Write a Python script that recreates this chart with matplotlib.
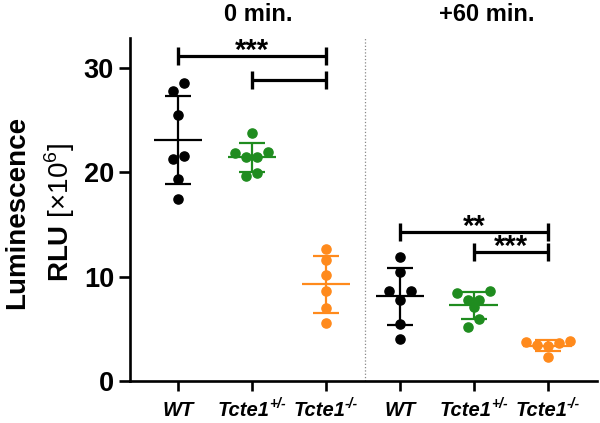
import numpy as np
import matplotlib
matplotlib.use("Agg")
from matplotlib import pyplot as plt
from matplotlib.transforms import IdentityTransform

plt.rcParams['font.family'] = ['Liberation Sans', 'DejaVu Sans']
plt.rcParams['mathtext.fontset'] = 'custom'
plt.rcParams['mathtext.rm'] = 'Liberation Sans'
plt.rcParams['mathtext.bf'] = 'Liberation Sans:bold'

# values (RLU x 10^6)
wt_0 = [28.6, 27.8, 25.5, 21.6, 21.3, 19.4, 17.5]
het_0 = [23.8, 22.0, 21.9, 21.5, 21.5, 19.9, 19.7]
ko_0 = [12.7, 11.6, 10.2, 8.6, 7.0, 5.6]
wt_60 = [11.9, 10.5, 8.6, 8.6, 7.8, 5.5, 4.0]
het_60 = [8.6, 8.4, 7.8, 7.8, 7.1, 5.9, 5.2]
ko_60 = [3.8, 3.7, 3.6, 3.5, 3.4, 2.3]

groups = [wt_0, het_0, ko_0, wt_60, het_60, ko_60]
genotypes = ['WT', 'Tcte1', 'Tcte1']
superscripts = ['', '+/-', '-/-']
timepoints = ['0 min.', '+60 min.']

# significance brackets: (from group, to group, height, label)
brackets = [(0, 2, 31.2, '***'), (1, 2, 28.9, ''),
            (3, 5, 14.3, '**'), (4, 5, 12.4, '***')]

colors = ['black', '#1f8c1f', '#ff8a1c'] * 2

fig = plt.figure(figsize=(6.0, 4.23), dpi=100)
ax = fig.add_axes([0.2167, 0.0993, 0.778, 0.811])
ax.set_xlim(-0.649, 5.662)
ax.set_ylim(0, 32.9)

# px per data unit, used to lay out the scatter rows
xpx = 74.0
ypx = 343.0 / 32.9
row_gap = 9.0 / ypx
step = 11.0 / xpx


def swarm_offsets(vals):
    order = np.argsort(vals)[::-1]
    offs = np.zeros(len(vals))
    rows = []
    for i in order:
        if rows and vals[rows[-1][0]] - vals[i] < row_gap:
            rows[-1].append(i)
        else:
            rows.append([i])
    for row in rows:
        n = len(row)
        slots = [(k - (n - 1) / 2.0) for k in range(n)]
        slots.sort(key=lambda s: (abs(s), s))
        row_sorted = sorted(row, key=lambda j: vals[j])
        for j, s in zip(row_sorted, slots):
            offs[j] = s * step
    return offs


for gi, vals in enumerate(groups):
    vals = np.array(vals)
    c = colors[gi]
    xs = gi + swarm_offsets(vals)
    ax.plot(xs, vals, 'o', color=c, ms=6.6, mec=c, zorder=2, clip_on=False)
    m = vals.mean()
    sd = vals.std(ddof=1)
    ax.plot([gi - 0.33, gi + 0.33], [m, m], color=c, lw=1.6, zorder=3,
            solid_capstyle='butt')
    ax.errorbar([gi], [m], yerr=[sd], fmt='none', ecolor=c, elinewidth=1.6,
                capsize=9.5, capthick=1.6, zorder=3)

for g1, g2, h, lab in brackets:
    ax.plot([g1, g2], [h, h], color='black', lw=2.3, marker='|', ms=12.5,
            mew=2.4, solid_capstyle='butt', clip_on=False)
    if lab:
        ax.text((g1 + g2) / 2.0, h - 0.3, lab, ha='center', va='baseline',
                fontsize=21, fontweight='bold', clip_on=False)

ax.axvline(2.53, color='#888888', lw=0.9, ls=':')

tx = ax.get_xaxis_transform()
ax.text(1.08, 1.067, timepoints[0], transform=tx, ha='center', va='center',
        fontsize=17, fontweight='bold')
ax.text(4.18, 1.067, timepoints[1], transform=tx, ha='center', va='center',
        fontsize=17, fontweight='bold')

ax.set_xticks(range(len(groups)))
ax.set_xticklabels([''] * len(groups))
ax.set_yticks([0, 10, 20, 30])
ax.set_yticklabels(['0', '10', '20', '30'], fontsize=19.5, fontweight='bold')

for side in ['top', 'right']:
    ax.spines[side].set_visible(False)
for side in ['left', 'bottom']:
    ax.spines[side].set_linewidth(1.9)
ax.tick_params(axis='y', length=8, width=1.9, pad=3.5)
ax.tick_params(axis='x', length=7.5, width=1.9)

# genotype labels with superscripts, centred under each tick
renderer = fig.canvas.get_renderer()
ident = IdentityTransform()
base_y = 7.0
for gi in range(len(groups)):
    g = genotypes[gi % 3]
    s = superscripts[gi % 3]
    t_main = fig.text(0, base_y, g, transform=ident, fontsize=14.5,
                      fontweight='bold', fontstyle='italic', va='baseline')
    t_sup = fig.text(0, base_y + 8, s, transform=ident, fontsize=10,
                     fontweight='bold', fontstyle='italic', va='baseline')
    w_main = t_main.get_window_extent(renderer).width
    w_sup = t_sup.get_window_extent(renderer).width if s else 0.0
    xc = ax.transData.transform((gi, 0))[0]
    x0 = xc - (w_main + w_sup) / 2.0
    t_main.set_x(x0)
    t_sup.set_x(x0 + w_main - 0.5)

fig.text(0.028, 0.497, 'Luminescence', rotation=90, ha='center', va='center',
         fontsize=20, fontweight='bold')
fig.text(0.099, 0.497, r'RLU $[\times10^{6}]$', rotation=90, ha='center',
         va='center', fontsize=20, fontweight='bold')

fig.savefig('out.png', dpi=100)
